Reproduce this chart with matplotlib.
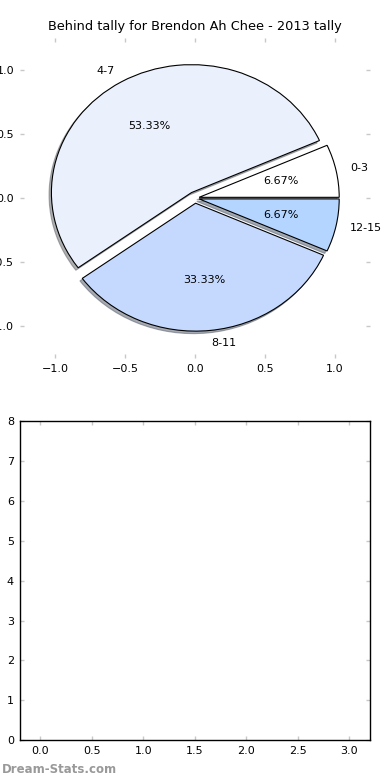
import matplotlib
matplotlib.use('Agg')
from matplotlib import pyplot as plt

# pie data
labels = ['0-3', '4-7', '8-11', '12-15']
counts = [1, 8, 5, 1]
colors = ['#ffffff', '#eaf1fd', '#c5d9fe', '#b3d5ff']
explode = [0.03, 0.05, 0.04, 0.03]

title = 'Behind tally for Brendon Ah Chee - 2013 tally'
pie_ticks = [-1.0, -0.5, 0.0, 0.5, 1.0]
bottom_xticks = [0.0, 0.5, 1.0, 1.5, 2.0, 2.5, 3.0]
bottom_yticks = [0, 1, 2, 3, 4, 5, 6, 7, 8]

plt.rcParams['font.family'] = ['DejaVu Sans']
plt.rcParams['font.size'] = 8

fig = plt.figure(figsize=(3.9, 7.8), dpi=100)
fig.patch.set_facecolor('white')


def style_ticks(ax):
    ax.tick_params(direction='in', length=3, width=1, color='#c8c8c8',
                   top=True, right=True, labelsize=8, pad=4)


# top: pie chart
ax1 = fig.add_axes([0.051, 0.541, 0.898, 0.41])
wedges, texts, autotexts = ax1.pie(counts, labels=labels, colors=colors, explode=explode,
                                   autopct='%.2f%%', startangle=0, labeldistance=1.1,
                                   shadow={'ox': -0.012, 'oy': -0.014, 'shade': 0.6},
                                   frame=True,
                                   wedgeprops={'edgecolor': 'black', 'linewidth': 0.8})
ax1.set_aspect('auto')
ax1.set_xlim(-1.25, 1.25)
ax1.set_ylim(-1.25, 1.25)
ax1.set_xticks(pie_ticks)
ax1.set_yticks(pie_ticks)
for s in ax1.spines.values():
    s.set_visible(False)
style_ticks(ax1)
ax1.set_title(title, fontsize=9.3, pad=6)
for t in texts + autotexts:
    t.set_fontsize(8)

# bottom: empty axes
ax2 = fig.add_axes([0.05, 0.051, 0.899, 0.409])
ax2.set_xlim(-0.2, 3.2)
ax2.set_ylim(0, 8)
ax2.set_xticks(bottom_xticks)
ax2.set_yticks(bottom_yticks)
style_ticks(ax2)
for s in ax2.spines.values():
    s.set_color('black')
    s.set_linewidth(1)

fig.text(0.005, 0.005, 'Dream-Stats.com', color='#999999', fontsize=8.5,
         fontweight='bold', ha='left', va='bottom')

fig.savefig('out.png', dpi=100)
